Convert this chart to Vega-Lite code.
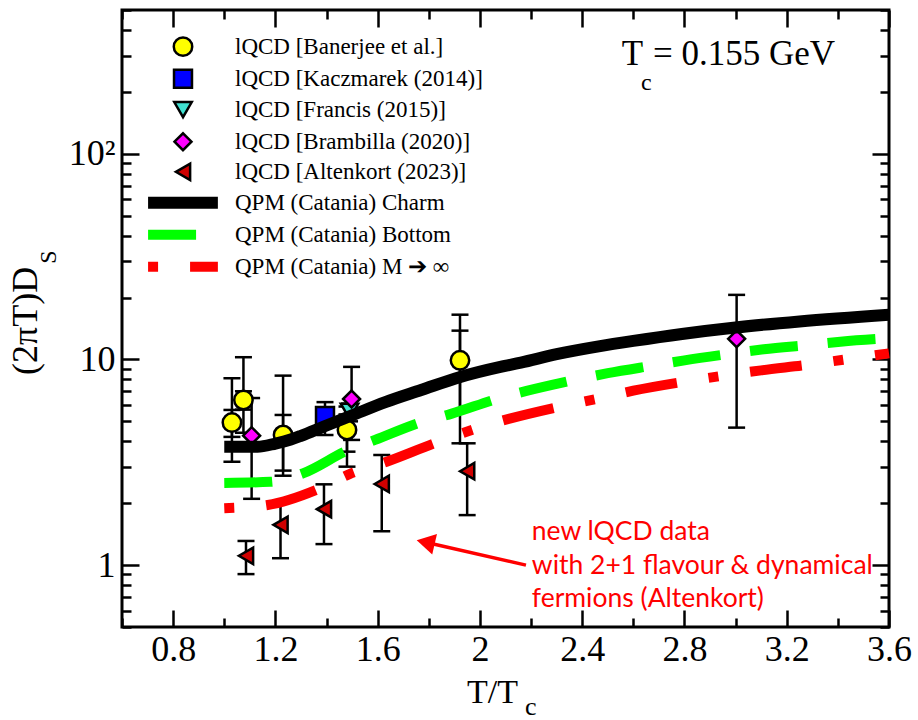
{
  "$schema": "https://vega.github.io/schema/vega-lite/v6.json",
  "width": 767,
  "height": 617,
  "autosize": {"type": "none"},
  "padding": {"left": 122, "top": 10, "right": 29, "bottom": 93},
  "background": "white",
  "config": {"view": {"stroke": "black", "strokeWidth": 3}, "font": "Liberation Serif"},
  "datasets": {
    "errs": [
      {"set": "Banerjee", "x": 1.03, "lo": 3.18, "hi": 8.1},
      {"set": "Banerjee", "x": 1.03, "lo": 4.2, "hi": 5.68},
      {"set": "Banerjee", "x": 1.075, "lo": 4.4, "hi": 10.25},
      {"set": "Banerjee", "x": 1.075, "lo": 5.7, "hi": 7.0},
      {"set": "Banerjee", "x": 1.23, "lo": 2.72, "hi": 8.34},
      {"set": "Banerjee", "x": 1.23, "lo": 2.88, "hi": 5.37},
      {"set": "Banerjee", "x": 1.48, "lo": 3.01, "hi": 5.9},
      {"set": "Banerjee", "x": 1.48, "lo": 3.56, "hi": 5.4},
      {"set": "Banerjee", "x": 1.922, "lo": 3.91, "hi": 16.5},
      {"set": "Banerjee", "x": 1.922, "lo": 5.6, "hi": 13.8},
      {"set": "Kaczmarek", "x": 1.394, "lo": 4.29, "hi": 6.2},
      {"set": "Francis", "x": 1.49, "lo": 5.0, "hi": 6.1},
      {"set": "Brambilla", "x": 1.107, "lo": 2.1, "hi": 6.49},
      {"set": "Brambilla", "x": 1.498, "lo": 4.06, "hi": 9.2},
      {"set": "Brambilla", "x": 3.004, "lo": 4.66, "hi": 20.6},
      {"set": "Altenkort", "x": 1.085, "lo": 0.904, "hi": 1.31},
      {"set": "Altenkort", "x": 1.22, "lo": 1.08, "hi": 2.05},
      {"set": "Altenkort", "x": 1.39, "lo": 1.265, "hi": 2.47},
      {"set": "Altenkort", "x": 1.616, "lo": 1.46, "hi": 3.43},
      {"set": "Altenkort", "x": 1.95, "lo": 1.75, "hi": 3.91}
    ],
    "points": [
      {"set": "Banerjee", "x": 1.03, "y": 4.93},
      {"set": "Banerjee", "x": 1.075, "y": 6.35},
      {"set": "Banerjee", "x": 1.23, "y": 4.29},
      {"set": "Banerjee", "x": 1.48, "y": 4.54},
      {"set": "Banerjee", "x": 1.922, "y": 9.9},
      {"set": "Kaczmarek", "x": 1.394, "y": 5.31},
      {"set": "Francis", "x": 1.49, "y": 5.6},
      {"set": "Brambilla", "x": 1.107, "y": 4.26},
      {"set": "Brambilla", "x": 1.498, "y": 6.42},
      {"set": "Brambilla", "x": 3.004, "y": 12.6},
      {"set": "Altenkort", "x": 1.085, "y": 1.11},
      {"set": "Altenkort", "x": 1.22, "y": 1.57},
      {"set": "Altenkort", "x": 1.39, "y": 1.87},
      {"set": "Altenkort", "x": 1.616, "y": 2.48},
      {"set": "Altenkort", "x": 1.95, "y": 2.86},
      {"set": "Banerjee", "x": 0.8386, "y": 331.7},
      {"set": "Kaczmarek", "x": 0.8386, "y": 231.7},
      {"set": "Francis", "x": 0.8386, "y": 163.8},
      {"set": "Brambilla", "x": 0.8386, "y": 114.4},
      {"set": "Altenkort", "x": 0.8386, "y": 81.7}
    ],
    "curves": [
      {"series": "Charm", "part": "curve", "x": 1.0, "y": 3.76},
      {"series": "Charm", "part": "curve", "x": 1.13, "y": 3.76},
      {"series": "Charm", "part": "curve", "x": 1.2, "y": 3.9},
      {"series": "Charm", "part": "curve", "x": 1.26, "y": 4.08},
      {"series": "Charm", "part": "curve", "x": 1.3, "y": 4.25},
      {"series": "Charm", "part": "curve", "x": 1.39, "y": 4.72},
      {"series": "Charm", "part": "curve", "x": 1.5, "y": 5.35},
      {"series": "Charm", "part": "curve", "x": 1.63, "y": 6.2},
      {"series": "Charm", "part": "curve", "x": 1.77, "y": 7.1},
      {"series": "Charm", "part": "curve", "x": 1.92, "y": 8.2},
      {"series": "Charm", "part": "curve", "x": 2.08, "y": 9.2},
      {"series": "Charm", "part": "curve", "x": 2.16, "y": 9.65},
      {"series": "Charm", "part": "curve", "x": 2.3, "y": 10.6},
      {"series": "Charm", "part": "curve", "x": 2.47, "y": 11.6},
      {"series": "Charm", "part": "curve", "x": 2.6, "y": 12.3},
      {"series": "Charm", "part": "curve", "x": 2.79, "y": 13.3},
      {"series": "Charm", "part": "curve", "x": 3.0, "y": 14.3},
      {"series": "Charm", "part": "curve", "x": 3.25, "y": 15.3},
      {"series": "Charm", "part": "curve", "x": 3.6, "y": 16.5},
      {"series": "Charm", "part": "legend", "x": 0.702, "y": 57.8},
      {"series": "Charm", "part": "legend", "x": 0.975, "y": 57.8},
      {"series": "Bottom", "part": "curve", "x": 1.0, "y": 2.51},
      {"series": "Bottom", "part": "curve", "x": 1.18, "y": 2.54},
      {"series": "Bottom", "part": "curve", "x": 1.31, "y": 2.8},
      {"series": "Bottom", "part": "curve", "x": 1.48, "y": 3.6},
      {"series": "Bottom", "part": "curve", "x": 1.59, "y": 4.06},
      {"series": "Bottom", "part": "curve", "x": 1.77, "y": 4.95},
      {"series": "Bottom", "part": "curve", "x": 1.89, "y": 5.45},
      {"series": "Bottom", "part": "curve", "x": 2.07, "y": 6.45},
      {"series": "Bottom", "part": "curve", "x": 2.3, "y": 7.6},
      {"series": "Bottom", "part": "curve", "x": 2.5, "y": 8.57},
      {"series": "Bottom", "part": "curve", "x": 2.68, "y": 9.35},
      {"series": "Bottom", "part": "curve", "x": 2.8, "y": 9.9},
      {"series": "Bottom", "part": "curve", "x": 2.99, "y": 10.7},
      {"series": "Bottom", "part": "curve", "x": 3.11, "y": 11.2},
      {"series": "Bottom", "part": "curve", "x": 3.3, "y": 11.8},
      {"series": "Bottom", "part": "curve", "x": 3.41, "y": 12.2},
      {"series": "Bottom", "part": "curve", "x": 3.6, "y": 12.7},
      {"series": "Bottom", "part": "legend", "x": 0.702, "y": 40.4},
      {"series": "Bottom", "part": "legend", "x": 0.893, "y": 40.4},
      {"series": "Minf", "part": "curve", "x": 1.0, "y": 1.89},
      {"series": "Minf", "part": "curve", "x": 1.17, "y": 1.96},
      {"series": "Minf", "part": "curve", "x": 1.36, "y": 2.32},
      {"series": "Minf", "part": "curve", "x": 1.49, "y": 2.77},
      {"series": "Minf", "part": "curve", "x": 1.635, "y": 3.18},
      {"series": "Minf", "part": "curve", "x": 1.824, "y": 3.92},
      {"series": "Minf", "part": "curve", "x": 1.968, "y": 4.54},
      {"series": "Minf", "part": "curve", "x": 2.12, "y": 5.17},
      {"series": "Minf", "part": "curve", "x": 2.3, "y": 5.85},
      {"series": "Minf", "part": "curve", "x": 2.47, "y": 6.48},
      {"series": "Minf", "part": "curve", "x": 2.6, "y": 7.05},
      {"series": "Minf", "part": "curve", "x": 2.8, "y": 7.8},
      {"series": "Minf", "part": "curve", "x": 2.94, "y": 8.3},
      {"series": "Minf", "part": "curve", "x": 3.1, "y": 8.85},
      {"series": "Minf", "part": "curve", "x": 3.29, "y": 9.45},
      {"series": "Minf", "part": "curve", "x": 3.43, "y": 10.0},
      {"series": "Minf", "part": "curve", "x": 3.6, "y": 10.7},
      {"series": "Minf", "part": "legend", "x": 0.702, "y": 28.2},
      {"series": "Minf", "part": "legend", "x": 0.975, "y": 28.2}
    ],
    "texts": [
      {"kind": "legend", "text": "lQCD [Banerjee et al.]", "x": 1.042, "y": 331.7},
      {"kind": "legend", "text": "lQCD [Kaczmarek (2014)]", "x": 1.042, "y": 231.7},
      {"kind": "legend", "text": "lQCD [Francis (2015)]", "x": 1.042, "y": 163.8},
      {"kind": "legend", "text": "lQCD [Brambilla (2020)]", "x": 1.042, "y": 114.4},
      {"kind": "legend", "text": "lQCD [Altenkort (2023)]", "x": 1.042, "y": 81.7},
      {"kind": "legend", "text": "QPM (Catania) Charm", "x": 1.042, "y": 57.8},
      {"kind": "legend", "text": "QPM (Catania) Bottom", "x": 1.042, "y": 40.4},
      {"kind": "legend", "text": "QPM (Catania) M ➔ ∞", "x": 1.042, "y": 28.2},
      {"kind": "tcbig", "text": "T", "x": 2.555, "y": 271},
      {"kind": "tcsub", "text": "c", "x": 2.63, "y": 204.8},
      {"kind": "tcbig", "text": "= 0.155 GeV", "x": 2.677, "y": 271},
      {"kind": "note", "text": "new lQCD data\nwith 2+1 flavour & dynamical\nfermions (Altenkort)", "x": 2.203, "y": 1.323},
      {"kind": "xtitle", "text": "T/T", "x": 2.149, "y": 0.5},
      {"kind": "xsub", "text": "c", "x": 2.149, "y": 0.5},
      {"kind": "ytitle", "text": "(2πT)D", "x": 0.6, "y": 28.2},
      {"kind": "ysub", "text": "S", "x": 0.6, "y": 28.2}
    ],
    "arrow": [
      {"x": 2.18, "y": 1.0, "x2": 1.7877, "y2": 1.292}
    ]
  },
  "resolve": {"axis": {"x": "independent", "y": "independent"}},
  "layer": [
    {
      "data": {"name": "errs"},
      "mark": {"type": "errorbar", "color": "black", "opacity": 1, "ticks": {"size": 17, "thickness": 2.5, "color": "black", "opacity": 1}, "rule": {"strokeWidth": 2.5, "color": "black", "opacity": 1}},
      "encoding": {
        "x": {"field": "x", "type": "quantitative", "scale": {"domain": [0.6, 3.6], "nice": false, "zero": false}, "axis": null},
        "y": {"field": "lo", "type": "quantitative", "scale": {"type": "log", "domain": [0.5, 500], "nice": false}, "axis": null},
        "y2": {"field": "hi"}
      }
    },
    {
      "data": {"name": "points"},
      "mark": {"type": "point", "filled": true, "stroke": "black", "strokeWidth": 2.5, "opacity": 1, "fillOpacity": 1, "strokeOpacity": 1},
      "encoding": {
        "x": {"field": "x", "type": "quantitative", "scale": {"domain": [0.6, 3.6], "nice": false, "zero": false},
          "axis": {"orient": "bottom", "values": [0.6, 0.8, 1, 1.2, 1.4, 1.6, 1.8, 2, 2.2, 2.4, 2.6, 2.8, 3, 3.2, 3.4, 3.6], "format": "~g",
            "labelExpr": "round(datum.value*10) % 4 == 0 ? datum.label : ''",
            "tickSize": {"condition": {"test": "round(datum.value*10) % 4 == 0", "value": -17}, "value": -9},
            "tickWidth": 2.5, "tickColor": "black", "domain": false, "grid": false,
            "labelFont": "Liberation Serif", "labelFontSize": 36, "labelColor": "black", "labelPadding": 22,
            "labelFlush": false, "labelOverlap": false, "title": null}},
        "y": {"field": "y", "type": "quantitative", "scale": {"type": "log", "domain": [0.5, 500], "nice": false},
          "axis": {"orient": "left", "values": [0.5, 0.6, 0.7, 0.8, 0.9, 1, 2, 3, 4, 5, 6, 7, 8, 9, 10, 20, 30, 40, 50, 60, 70, 80, 90, 100, 200, 300, 400, 500],
            "labelExpr": "datum.value == 100 ? '10²' : (datum.value == 10 ? '10' : (datum.value == 1 ? '1' : ''))",
            "tickSize": {"condition": {"test": "datum.value == 1 || datum.value == 10 || datum.value == 100", "value": -17}, "value": -9},
            "tickWidth": 2.5, "tickColor": "black", "domain": false, "grid": false,
            "labelFont": "Liberation Serif", "labelFontSize": 36, "labelColor": "black", "labelPadding": 24,
            "labelFlush": false, "labelOverlap": false, "title": null}},
        "shape": {"field": "set", "type": "nominal", "legend": null,
          "scale": {"domain": ["Banerjee", "Kaczmarek", "Francis", "Brambilla", "Altenkort"], "range": ["circle", "square", "triangle-down", "diamond", "triangle-left"]}},
        "fill": {"field": "set", "type": "nominal", "legend": null,
          "scale": {"domain": ["Banerjee", "Kaczmarek", "Francis", "Brambilla", "Altenkort"], "range": ["#FFFF00", "#0000FF", "#40E0D0", "#FF00FF", "#D00000"]}},
        "size": {"field": "set", "type": "nominal", "legend": null,
          "scale": {"domain": ["Banerjee", "Kaczmarek", "Francis", "Brambilla", "Altenkort"], "range": [340, 270, 310, 340, 340]}}
      }
    },
    {
      "data": {"name": "curves"},
      "transform": [{"filter": "datum.series == 'Charm'"}],
      "mark": {"type": "line", "color": "black", "strokeWidth": 12, "interpolate": "monotone", "strokeCap": "butt"},
      "encoding": {
        "x": {"field": "x", "type": "quantitative", "scale": {"domain": [0.6, 3.6], "nice": false, "zero": false},
          "axis": {"orient": "top", "values": [0.6, 0.8, 1, 1.2, 1.4, 1.6, 1.8, 2, 2.2, 2.4, 2.6, 2.8, 3, 3.2, 3.4, 3.6],
            "labels": false,
            "tickSize": {"condition": {"test": "round(datum.value*10) % 4 == 0", "value": -17}, "value": -9},
            "tickWidth": 2.5, "tickColor": "black", "domain": false, "grid": false, "title": null}},
        "y": {"field": "y", "type": "quantitative", "scale": {"type": "log", "domain": [0.5, 500], "nice": false},
          "axis": {"orient": "right", "values": [0.5, 0.6, 0.7, 0.8, 0.9, 1, 2, 3, 4, 5, 6, 7, 8, 9, 10, 20, 30, 40, 50, 60, 70, 80, 90, 100, 200, 300, 400, 500],
            "labels": false,
            "tickSize": {"condition": {"test": "datum.value == 1 || datum.value == 10 || datum.value == 100", "value": -17}, "value": -9},
            "tickWidth": 2.5, "tickColor": "black", "domain": false, "grid": false, "title": null}},
        "detail": {"field": "part", "type": "nominal"}
      }
    },
    {
      "data": {"name": "curves"},
      "transform": [{"filter": "datum.series == 'Bottom'"}],
      "mark": {"type": "line", "color": "#00FF00", "strokeWidth": 10, "interpolate": "monotone", "strokeCap": "butt", "strokeDash": [48, 30]},
      "encoding": {
        "x": {"field": "x", "type": "quantitative", "scale": {"domain": [0.6, 3.6], "nice": false, "zero": false}, "axis": null},
        "y": {"field": "y", "type": "quantitative", "scale": {"type": "log", "domain": [0.5, 500], "nice": false}, "axis": null},
        "detail": {"field": "part", "type": "nominal"}
      }
    },
    {
      "data": {"name": "curves"},
      "transform": [{"filter": "datum.series == 'Minf'"}],
      "mark": {"type": "line", "color": "#FF0000", "strokeWidth": 10, "interpolate": "monotone", "strokeCap": "butt", "strokeDash": [10, 32, 52, 32]},
      "encoding": {
        "x": {"field": "x", "type": "quantitative", "scale": {"domain": [0.6, 3.6], "nice": false, "zero": false}, "axis": null},
        "y": {"field": "y", "type": "quantitative", "scale": {"type": "log", "domain": [0.5, 500], "nice": false}, "axis": null},
        "detail": {"field": "part", "type": "nominal"}
      }
    },
    {
      "data": {"name": "texts"},
      "transform": [{"filter": "datum.kind == 'legend'"}],
      "mark": {"type": "text", "font": "Liberation Serif", "fontSize": 23, "align": "left", "baseline": "middle", "color": "black"},
      "encoding": {
        "x": {"field": "x", "type": "quantitative", "scale": {"domain": [0.6, 3.6], "nice": false, "zero": false}, "axis": null},
        "y": {"field": "y", "type": "quantitative", "scale": {"type": "log", "domain": [0.5, 500], "nice": false}, "axis": null},
        "text": {"field": "text"}
      }
    },
    {
      "data": {"name": "texts"},
      "transform": [{"filter": "datum.kind == 'tcbig'"}],
      "mark": {"type": "text", "font": "Liberation Serif", "fontSize": 35, "align": "left", "baseline": "alphabetic", "color": "black"},
      "encoding": {
        "x": {"field": "x", "type": "quantitative", "scale": {"domain": [0.6, 3.6], "nice": false, "zero": false}, "axis": null},
        "y": {"field": "y", "type": "quantitative", "scale": {"type": "log", "domain": [0.5, 500], "nice": false}, "axis": null},
        "text": {"field": "text"}
      }
    },
    {
      "data": {"name": "texts"},
      "transform": [{"filter": "datum.kind == 'tcsub'"}],
      "mark": {"type": "text", "font": "Liberation Serif", "fontSize": 24, "align": "left", "baseline": "alphabetic", "color": "black"},
      "encoding": {
        "x": {"field": "x", "type": "quantitative", "scale": {"domain": [0.6, 3.6], "nice": false, "zero": false}, "axis": null},
        "y": {"field": "y", "type": "quantitative", "scale": {"type": "log", "domain": [0.5, 500], "nice": false}, "axis": null},
        "text": {"field": "text"}
      }
    },
    {
      "data": {"name": "texts"},
      "transform": [{"filter": "datum.kind == 'note'"}],
      "mark": {"type": "text", "font": "Lato", "fontSize": 26.5, "align": "left", "baseline": "alphabetic", "color": "#FF0000", "lineBreak": "\n", "lineHeight": 33.5},
      "encoding": {
        "x": {"field": "x", "type": "quantitative", "scale": {"domain": [0.6, 3.6], "nice": false, "zero": false}, "axis": null},
        "y": {"field": "y", "type": "quantitative", "scale": {"type": "log", "domain": [0.5, 500], "nice": false}, "axis": null},
        "text": {"field": "text"}
      }
    },
    {
      "data": {"name": "texts"},
      "transform": [{"filter": "datum.kind == 'xtitle'"}],
      "mark": {"type": "text", "font": "Liberation Serif", "fontSize": 34, "align": "right", "baseline": "alphabetic", "color": "black", "dy": 76},
      "encoding": {
        "x": {"field": "x", "type": "quantitative", "scale": {"domain": [0.6, 3.6], "nice": false, "zero": false}, "axis": null},
        "y": {"field": "y", "type": "quantitative", "scale": {"type": "log", "domain": [0.5, 500], "nice": false}, "axis": null},
        "text": {"field": "text"}
      }
    },
    {
      "data": {"name": "texts"},
      "transform": [{"filter": "datum.kind == 'xsub'"}],
      "mark": {"type": "text", "font": "Liberation Serif", "fontSize": 26, "align": "left", "baseline": "alphabetic", "color": "black", "dx": 7, "dy": 88},
      "encoding": {
        "x": {"field": "x", "type": "quantitative", "scale": {"domain": [0.6, 3.6], "nice": false, "zero": false}, "axis": null},
        "y": {"field": "y", "type": "quantitative", "scale": {"type": "log", "domain": [0.5, 500], "nice": false}, "axis": null},
        "text": {"field": "text"}
      }
    },
    {
      "data": {"name": "texts"},
      "transform": [{"filter": "datum.kind == 'ytitle'"}],
      "mark": {"type": "text", "font": "Liberation Serif", "fontSize": 36, "align": "right", "baseline": "alphabetic", "color": "black", "angle": 270, "dy": -85},
      "encoding": {
        "x": {"field": "x", "type": "quantitative", "scale": {"domain": [0.6, 3.6], "nice": false, "zero": false}, "axis": null},
        "y": {"field": "y", "type": "quantitative", "scale": {"type": "log", "domain": [0.5, 500], "nice": false}, "axis": null},
        "text": {"field": "text"}
      }
    },
    {
      "data": {"name": "texts"},
      "transform": [{"filter": "datum.kind == 'ysub'"}],
      "mark": {"type": "text", "font": "Liberation Serif", "fontSize": 24, "align": "left", "baseline": "alphabetic", "color": "black", "angle": 270, "dx": 3, "dy": -66},
      "encoding": {
        "x": {"field": "x", "type": "quantitative", "scale": {"domain": [0.6, 3.6], "nice": false, "zero": false}, "axis": null},
        "y": {"field": "y", "type": "quantitative", "scale": {"type": "log", "domain": [0.5, 500], "nice": false}, "axis": null},
        "text": {"field": "text"}
      }
    },
    {
      "data": {"name": "arrow"},
      "mark": {"type": "rule", "color": "#FF0000", "strokeWidth": 3.5},
      "encoding": {
        "x": {"field": "x", "type": "quantitative", "scale": {"domain": [0.6, 3.6], "nice": false, "zero": false}, "axis": null},
        "y": {"field": "y", "type": "quantitative", "scale": {"type": "log", "domain": [0.5, 500], "nice": false}, "axis": null},
        "x2": {"field": "x2"},
        "y2": {"field": "y2"}
      }
    },
    {
      "data": {"name": "arrow"},
      "mark": {"type": "point", "shape": "triangle-left", "filled": true, "color": "#FF0000", "size": 450, "angle": 13, "opacity": 1},
      "encoding": {
        "x": {"field": "x2", "type": "quantitative", "scale": {"domain": [0.6, 3.6], "nice": false, "zero": false}, "axis": null},
        "y": {"field": "y2", "type": "quantitative", "scale": {"type": "log", "domain": [0.5, 500], "nice": false}, "axis": null}
      }
    }
  ]
}
